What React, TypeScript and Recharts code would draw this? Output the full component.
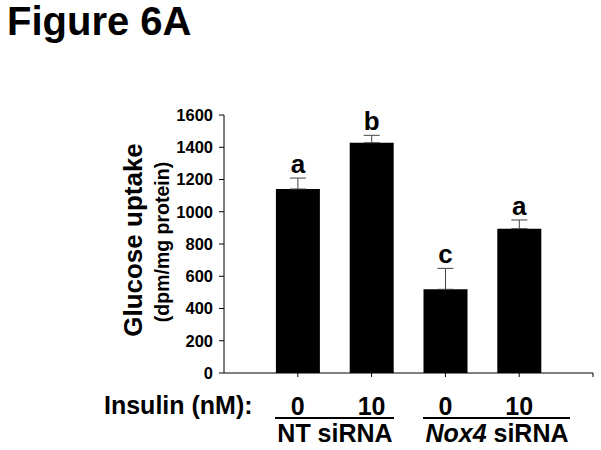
import { BarChart, Bar, XAxis, YAxis, ErrorBar, LabelList } from 'recharts';

const positions = [1, 2, 3, 4];
const insulinDose = ['0', '10', '0', '10'];
const uptake = [1141, 1428, 519, 895];
const sem = [68, 46, 130, 54];
const letters = ['a', 'b', 'c', 'a'];
const yTicks = [0, 200, 400, 600, 800, 1000, 1200, 1400, 1600];
const xTicks = [1, 2, 3, 4, 5];

const font = '"Liberation Sans", Arial, sans-serif';

const rows = positions.map((p, i) => ({
  pos: p,
  uptake: uptake[i],
  err: [0, sem[i]],
  letter: letters[i],
}));

function Letter(props: any) {
  const { x, y, width, height, index, value } = props;
  const i = typeof index === 'number' ? index : letters.indexOf(value);
  const v = uptake[i];
  const top = y - (sem[i] * height) / v;
  return (
    <text
      x={x + width / 2}
      y={top - 5}
      textAnchor="middle"
      fontFamily={font}
      fontWeight="bold"
      fontSize={26}
      fill="#000"
    >
      {value}
    </text>
  );
}

export default function App() {
  return (
    <div style={{ position: 'absolute', left: 0, top: 0, width: 601, height: 450, background: '#fff' }}>
      <BarChart
        width={601}
        height={450}
        data={rows}
        margin={{ top: 115, right: 8, bottom: 0, left: 164 }}
      >
        <XAxis
          dataKey="pos"
          type="number"
          domain={[0, 5]}
          ticks={xTicks}
          interval={0}
          height={77}
          tickSize={4}
          tickMargin={20}
          tickFormatter={(v: number) => insulinDose[v - 1] ?? ''}
          stroke="#000"
          tick={{ fill: '#000', fontSize: 25, fontWeight: 'bold', fontFamily: font }}
        />
        <YAxis
          domain={[0, 1600]}
          ticks={yTicks}
          interval={0}
          width={60}
          tickSize={5}
          tickMargin={6}
          stroke="#000"
          tick={{ fill: '#000', fontSize: 16.5, fontWeight: 'bold', fontFamily: font }}
        />
        <Bar dataKey="uptake" fill="#000" barSize={44} isAnimationActive={false}>
          <ErrorBar dataKey="err" direction="y" width={8} stroke="#444" strokeWidth={1} />
          <LabelList dataKey="letter" content={Letter} />
        </Bar>
      </BarChart>
      <svg
        width={601}
        height={450}
        style={{ position: 'absolute', left: 0, top: 0, pointerEvents: 'none' }}
        fontFamily={font}
        fontWeight="bold"
      >
        <text x={7} y={35} fontSize={40} fill="#000">Figure 6A</text>
        <text transform="translate(142,240) rotate(-90)" textAnchor="middle" fontSize={26} fill="#000">
          Glucose uptake
        </text>
        <text transform="translate(169,242) rotate(-90)" textAnchor="middle" fontSize={19.5} fill="#000">
          (dpm/mg protein)
        </text>
        <text x={104} y={414} fontSize={25} fill="#000">Insulin (nM):</text>
        <line x1={275} x2={394} y1={418} y2={418} stroke="#000" strokeWidth={2} />
        <line x1={423} x2={570} y1={418} y2={418} stroke="#000" strokeWidth={2} />
        <text x={335} y={442} textAnchor="middle" fontSize={25} fill="#000">NT siRNA</text>
        <text x={497} y={442} textAnchor="middle" fontSize={25} fill="#000">
          <tspan fontStyle="italic">Nox4</tspan> siRNA
        </text>
      </svg>
    </div>
  );
}
